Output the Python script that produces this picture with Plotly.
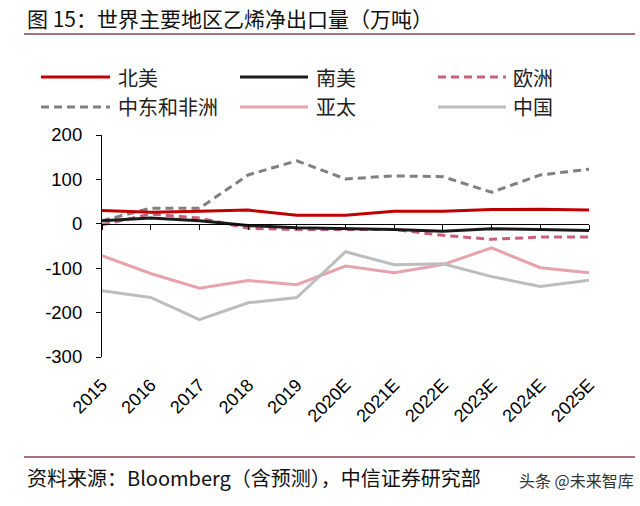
import plotly.graph_objects as go

years = ["2015", "2016", "2017", "2018", "2019", "2020E", "2021E", "2022E", "2023E", "2024E", "2025E"]
north_america = [30, 26, 28, 31, 19, 19, 28, 28, 32, 33, 31]
south_america = [7, 13, 7, -4, -9, -11, -13, -17, -11, -13, -15]
europe = [-2, 22, 13, -10, -13, -13, -13, -26, -35, -30, -30]
mideast_africa = [7, 35, 35, 110, 142, 101, 108, 106, 71, 110, 123]
asia_pacific = [-72, -112, -145, -128, -137, -95, -110, -92, -54, -99, -110]
china = [-151, -166, -216, -178, -166, -63, -92, -90, -119, -141, -127]
y_ticks = [200, 100, 0, -100, -200, -300]
y_tick_labels = ["200", "100", "0", "-100", "-200", "-300"]

series_names = ["北美", "南美", "欧洲", "中东和非洲", "亚太", "中国"]
series_values = [north_america, south_america, europe, mideast_africa, asia_pacific, china]
series_colors = ["#c00000", "#1a1a1a", "#c8607a", "#808080", "#e8a2ac", "#bdbdbd"]
series_dash = ["solid", "solid", "8px,5px", "8px,5px", "solid", "solid"]

FONT = "Liberation Sans, Arial, Noto Sans CJK SC, sans-serif"
CJK = "Noto Sans CJK SC, sans-serif"

W, H = 640, 506
L, R, T, B = 102, 51, 135, 149
pw = W - L - R
ph = H - T - B


def px_x(x):
    return (x - L) / pw


def px_y(y):
    return (H - B - y) / ph


fig = go.Figure()
order = [3, 4, 5, 2, 1, 0]  # draw order (north america on top)
for i in order:
    fig.add_trace(go.Scatter(
        x=list(range(len(years))), y=series_values[i], name=series_names[i], mode="lines",
        line=dict(color=series_colors[i], width=3, dash=series_dash[i]),
        showlegend=False,
    ))

# invisible helper trace so that xaxis2 (axis line at y=0 with ticks) is rendered
fig.add_trace(go.Scatter(x=[0, 10], y=[0, 0], xaxis="x2", mode="lines",
                         line=dict(width=0), showlegend=False, hoverinfo="skip"))

fig.update_layout(
    width=W, height=H,
    margin=dict(l=L, r=R, t=T, b=B),
    paper_bgcolor="white", plot_bgcolor="white",
    font=dict(family=FONT, size=17, color="black"),
    showlegend=False,
    xaxis=dict(
        range=[0, 10], tickmode="array",
        tickvals=list(range(len(years))), ticktext=years,
        tickangle=-45, showline=False, ticks="", showgrid=False,
        zeroline=False, ticklabelstandoff=13,
        tickfont=dict(family=FONT, size=18, color="black"),
    ),
    xaxis2=dict(
        overlaying="x", anchor="free", position=(0 - min(y_ticks)) / (max(y_ticks) - min(y_ticks)),
        range=[0, 10], tickmode="array", tickvals=list(range(len(years))),
        showticklabels=False, ticks="outside", ticklen=5, tickwidth=1.2,
        tickcolor="black", showline=True, linecolor="black", linewidth=1.2,
        showgrid=False, zeroline=False, side="bottom",
    ),
    yaxis=dict(
        range=[-300, 200], tickmode="array", tickvals=y_ticks, ticktext=y_tick_labels,
        ticks="outside", ticklen=5, tickcolor="black",
        showline=True, linecolor="black", linewidth=1.2,
        showgrid=False, zeroline=False, ticklabelstandoff=10,
        tickfont=dict(family=FONT, size=18.5, color="black"),
    ),
)

# custom legend (3 columns x 2 rows)
leg_cols = [(41, 110, 116), (240, 308, 314), (438, 506, 511)]
leg_rows = [77, 107]
for k in range(6):
    r, c = divmod(k, 3)
    x0, x1, xt = leg_cols[c]
    yy = leg_rows[r]
    fig.add_shape(type="line", xref="paper", yref="paper",
                  x0=px_x(x0), x1=px_x(x1), y0=px_y(yy), y1=px_y(yy),
                  line=dict(color=series_colors[k], width=3, dash=series_dash[k]))
    fig.add_annotation(text=series_names[k], xref="paper", yref="paper",
                       x=px_x(xt), y=px_y(yy), xanchor="left", yanchor="middle",
                       showarrow=False, font=dict(family=CJK, size=20, color="#222222"))

fig.add_annotation(
    text="图 15：世界主要地区乙烯净出口量（万吨）", xref="paper", yref="paper",
    x=px_x(25), y=px_y(18), xanchor="left", yanchor="middle", showarrow=False,
    font=dict(family=CJK, size=21, color="#111111"),
)
fig.add_shape(type="line", xref="paper", yref="paper",
              x0=px_x(24), x1=px_x(635), y0=px_y(34), y1=px_y(34),
              line=dict(color="#a8707a", width=2))
fig.add_shape(type="line", xref="paper", yref="paper",
              x0=px_x(24), x1=px_x(635), y0=px_y(457), y1=px_y(457),
              line=dict(color="#a8707a", width=2))
fig.add_annotation(
    text="资料来源：Bloomberg（含预测），中信证券研究部", xref="paper", yref="paper",
    x=px_x(25), y=px_y(477), xanchor="left", yanchor="middle", showarrow=False,
    font=dict(family=CJK, size=20, color="#111111"),
)
fig.add_annotation(
    text="头条 @未来智库", xref="paper", yref="paper",
    x=px_x(636), y=px_y(480), xanchor="right", yanchor="middle", showarrow=False,
    font=dict(family=CJK, size=16, color="#333333"),
)

fig.write_html("out.html")
